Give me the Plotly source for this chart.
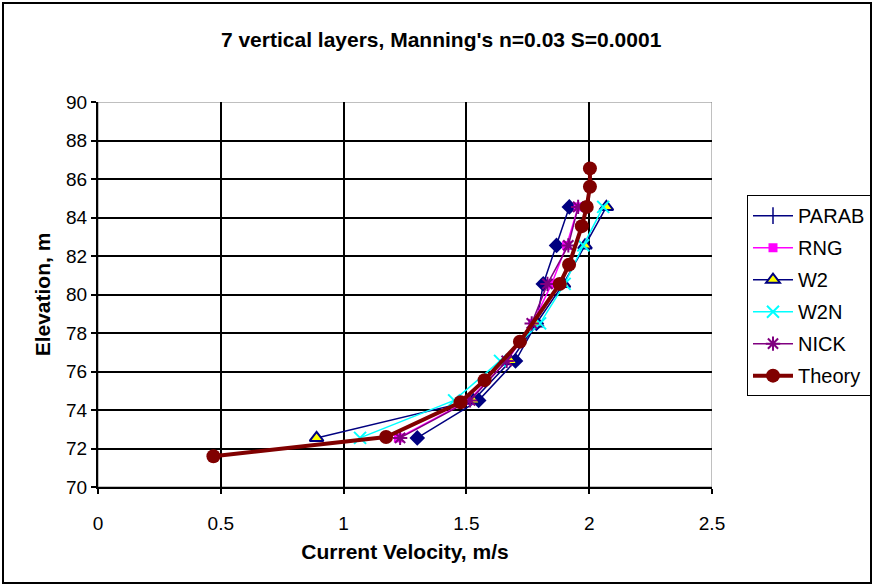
import plotly.graph_objects as go

layers = [72.55, 74.5, 76.55, 78.5, 80.55, 82.55, 84.55]
parab = [1.30, 1.55, 1.70, 1.785, 1.813, 1.867, 1.919]
rng = [1.223, 1.51, 1.665, 1.77, 1.847, 1.908, 1.955]
w2 = [0.89, 1.528, 1.68, 1.786, 1.895, 1.983, 2.07]
w2n = [1.067, 1.45, 1.637, 1.80, 1.90, 1.976, 2.057]
nick = [1.23, 1.515, 1.664, 1.766, 1.83, 1.915, 1.955]
theory_elev = [71.6, 72.6, 74.4, 75.55, 77.55, 80.55, 81.55, 83.55, 84.55, 85.6, 86.55]
theory_vel = [0.47, 1.173, 1.476, 1.574, 1.718, 1.88, 1.918, 1.97, 1.99, 2.003, 2.003]

FONT = "Arial, Liberation Sans, sans-serif"
fig = go.Figure()

# PARAB: diamonds on plot, '+' style in legend
fig.add_trace(go.Scatter(x=parab, y=layers, mode="lines+markers", name="PARAB",
                         line=dict(color="#000080", width=1.5),
                         marker=dict(symbol="diamond", size=12, color="#000080"),
                         showlegend=False, legendgroup="a"))
fig.add_trace(go.Scatter(x=[None], y=[None], mode="lines+markers", name="PARAB",
                         line=dict(color="#000080", width=1.5),
                         marker=dict(symbol="line-ns", size=12, line=dict(color="#000080", width=1.5)),
                         legendgroup="a"))
fig.add_trace(go.Scatter(x=rng, y=layers, mode="lines+markers", name="RNG",
                         line=dict(color="#FF00FF", width=1.5),
                         marker=dict(symbol="square", size=9, color="#FF00FF"), legendgroup="b"))
fig.add_trace(go.Scatter(x=w2, y=layers, mode="lines+markers", name="W2",
                         line=dict(color="#000080", width=1.5),
                         marker=dict(symbol="triangle-up", size=12, color="#FFFF00",
                                     line=dict(color="#000080", width=2)), legendgroup="c"))
fig.add_trace(go.Scatter(x=w2n, y=layers, mode="lines+markers", name="W2N",
                         line=dict(color="#00FFFF", width=1.5),
                         marker=dict(symbol="x-thin", size=12, line=dict(color="#00FFFF", width=2)),
                         legendgroup="d"))
fig.add_trace(go.Scatter(x=nick, y=layers, mode="lines+markers", name="NICK",
                         line=dict(color="#800080", width=1.5),
                         marker=dict(symbol="asterisk", size=12, line=dict(color="#800080", width=2)),
                         legendgroup="e"))
fig.add_trace(go.Scatter(x=theory_vel, y=theory_elev, mode="lines+markers", name="Theory",
                         line=dict(color="#800000", width=4),
                         marker=dict(symbol="circle", size=14, color="#800000"), legendgroup="f"))

fig.update_layout(
    width=877, height=586,
    margin=dict(l=98, r=165, t=102, b=99, autoexpand=False),
    paper_bgcolor="white", plot_bgcolor="white",
    font=dict(family=FONT, size=19, color="black"),
    title=dict(text="<b>7 vertical layers, Manning's n=0.03 S=0.0001</b>",
               x=0.503, xanchor="center", y=1 - 40 / 586, yanchor="middle",
               font=dict(size=21)),
    showlegend=True,
    legend=dict(x=1.057, xanchor="left", y=0.758, yanchor="top",
                bgcolor="white", bordercolor="black", borderwidth=1,
                font=dict(size=20), tracegroupgap=3, itemwidth=40),
    xaxis=dict(range=[0, 2.5], dtick=0.5, showgrid=True, gridcolor="black", gridwidth=2,
               ticks="outside", ticklen=5, tickcolor="black", tickwidth=1.5,
               showline=True, linecolor="black", linewidth=2, mirror=False,
               zeroline=False, ticklabelstandoff=13,
               title=dict(text="<b>Current Velocity, m/s</b>", font=dict(size=21), standoff=12)),
    yaxis=dict(range=[70, 90], dtick=2, showgrid=True, gridcolor="black", gridwidth=2,
               ticks="outside", ticklen=5, tickcolor="black", tickwidth=1.5,
               showline=True, linecolor="black", linewidth=2,
               zeroline=False,
               title=dict(text="<b>Elevation, m</b>", font=dict(size=21), standoff=10)),
    shapes=[
        dict(type="rect", xref="x", yref="y", x0=0, x1=2.5, y0=70, y1=90,
             line=dict(color="#808080", width=1), layer="below"),
        dict(type="rect", xref="paper", yref="paper",
             x0=-95 / 614, x1=(871 - 98) / 614, y0=-96 / 385, y1=(487 - 3) / 385,
             line=dict(color="black", width=2)),
    ],
)

fig.write_html("out.html")
